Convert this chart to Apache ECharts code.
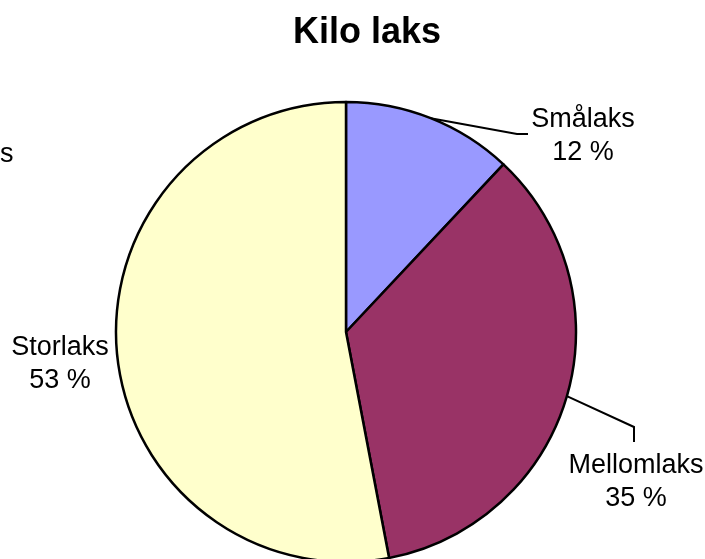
<!DOCTYPE html>
<html>
<head>
<meta charset="utf-8">
<script src="https://cdn.jsdelivr.net/npm/echarts@6/dist/echarts.min.js"></script>
<style>
  html, body { margin: 0; padding: 0; background: #fff; }
  #chart { width: 705px; height: 559px; }
</style>
</head>
<body>
<div id="chart"></div>
<script>
// data
const categories = ["Smålaks", "Mellomlaks", "Storlaks"];
const percents = [12, 35, 53];
const sliceColors = ["#9999FF", "#993366", "#FFFFCC"];

// label placement (x, y = centre of label block) and leader line kinks
const labelPos = [
  { x: 583, y: 136, line: [[517, 134], [528, 134]] },
  { x: 636, y: 482, line: [[634, 427], [634, 442]] },
  { x: 60, y: 364, line: null },
];

const font = "'Liberation Sans', Arial, sans-serif";

const chart = echarts.init(document.getElementById("chart"));

const option = {
  animation: false,
  backgroundColor: "#fff",
  title: {
    text: "Kilo laks",
    left: 288,
    top: 10,
    textStyle: {
      fontFamily: font,
      fontSize: 36,
      fontWeight: "bold",
      color: "#000",
    },
  },
  graphic: [
    {
      // cut-off text at the left edge
      type: "text",
      left: 0,
      top: 141,
      style: { text: "s", font: "27px " + font, fill: "#000" },
    },
  ],
  series: [
    {
      type: "pie",
      center: [346, 332],
      radius: 230,
      startAngle: 90,
      clockwise: true,
      data: categories.map((name, i) => ({
        name: name,
        value: percents[i],
        itemStyle: { color: sliceColors[i] },
        labelLine: { show: labelPos[i].line !== null },
      })),
      itemStyle: { borderColor: "#000", borderWidth: 2.5 },
      label: {
        show: true,
        position: "outside",
        formatter: (p) => p.name + "\n" + p.value + " %",
        fontFamily: font,
        fontSize: 27,
        lineHeight: 33,
        color: "#000",
        align: "center",
        overflow: "none",
      },
      labelLine: {
        show: true,
        lineStyle: { color: "#000", width: 2 },
      },
      labelLayout: function (params) {
        const pos = labelPos[params.dataIndex];
        const res = {
          x: pos.x,
          y: pos.y,
          align: "center",
          verticalAlign: "middle",
        };
        if (pos.line && params.labelLinePoints) {
          res.labelLinePoints = [params.labelLinePoints[0]].concat(pos.line);
        }
        return res;
      },
    },
  ],
};

chart.setOption(option);
</script>
</body>
</html>
